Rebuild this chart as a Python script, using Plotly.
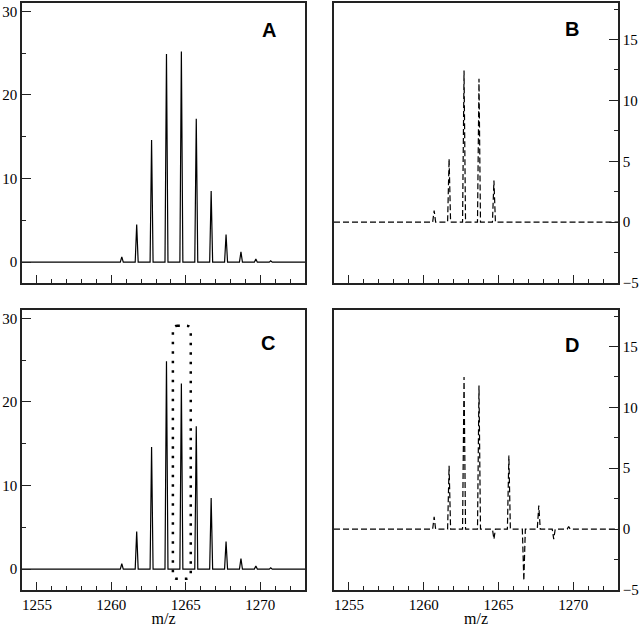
import plotly.graph_objects as go

# ---- data ----
peak_mz = [1260.7, 1261.7, 1262.7, 1263.7, 1264.7, 1265.7, 1266.7, 1267.7, 1268.7, 1269.7, 1270.7]
intensity_A = [0.64, 4.5, 14.6, 24.9, 25.2, 17.15, 8.5, 3.3, 1.23, 0.36, 0.15]
intensity_C = [0.64, 4.5, 14.6, 24.85, 22.2, 17.1, 8.5, 3.3, 1.25, 0.36, 0.15]
difference_B = [0.96, 5.2, 12.45, 11.77, 3.42, 0.0, 0.0, 0.0, 0.0, 0.0, 0.0]
difference_D = [1.0, 5.2, 12.5, 11.8, -0.82, 6.04, -4.23, 1.94, -0.82, 0.22, 0.0]
mz_start, mz_end = 1254, 1273
panel_labels = ["A", "B", "C", "D"]
# highlighted region in C (m/z range, intensity range)
box_mz = [1264.13, 1265.33]
box_int = [-1.16, 29.12]

HALF = 0.1  # half-width of each profile peak (m/z)


def profile(mz, vals):
    xs, ys = [mz_start], [0]
    for c, h in zip(mz, vals):
        xs += [c - HALF, c, c + HALF]
        ys += [0, h, 0]
    xs.append(mz_end)
    ys.append(0)
    return xs, ys


fig = go.Figure()
line_solid = dict(color="black", width=1.2)
line_dash = dict(color="black", width=1.2, dash="6px,3px")

for vals, xa, ya, ln in [
    (intensity_A, "x", "y", line_solid),
    (difference_B, "x2", "y2", line_dash),
    (intensity_C, "x3", "y3", line_solid),
    (difference_D, "x4", "y4", line_dash),
]:
    xs, ys = profile(peak_mz, vals)
    fig.add_trace(go.Scatter(x=xs, y=ys, mode="lines", line=ln, xaxis=xa, yaxis=ya,
                             showlegend=False, hoverinfo="skip"))

W, H = 640, 627
ML, MR, MT, MB = 22, 22, 1, 37
PW, PH = W - ML - MR, H - MT - MB
colA = [0, (305 - ML) / PW]
colB = [(334 - ML) / PW, 1]
rowTop = [(H - MB - 282) / PH, 1]
rowBot = [0, (H - MB - 309) / PH]

SERIF = "Liberation Serif"
axcol = "#222222"


def xaxis(domain, anchor, labels):
    d = dict(domain=domain, anchor=anchor, range=[mz_start, mz_end], tick0=1255, dtick=5,
             ticks="inside", ticklen=8, tickwidth=1.2, tickcolor=axcol,
             minor=dict(dtick=1, ticks="inside", ticklen=4, tickwidth=1.2, tickcolor=axcol, showgrid=False),
             showline=True, linewidth=1.5, linecolor=axcol, mirror=True,
             showgrid=False, zeroline=False, showticklabels=labels,
             tickfont=dict(family=SERIF, size=15, color="black"))
    if labels:
        d["title"] = dict(text="m/z", font=dict(family=SERIF, size=16, color="black"), standoff=1)
    return d


def yaxis(domain, anchor, rng, dt, side):
    return dict(domain=domain, anchor=anchor, range=rng, dtick=dt, tick0=0, side=side,
                ticks="inside", ticklen=9, tickwidth=1.2, tickcolor=axcol,
                minor=dict(dtick=dt / 2, ticks="inside", ticklen=4, tickwidth=1.2, tickcolor=axcol, showgrid=False),
                showline=True, linewidth=1.5, linecolor=axcol, mirror=True,
                showgrid=False, zeroline=False,
                tickfont=dict(family=SERIF, size=15, color="black"))


fig.update_layout(
    width=W, height=H, margin=dict(l=ML, r=MR, t=MT, b=MB),
    font=dict(family=SERIF, size=15, color="black"),
    paper_bgcolor="white", plot_bgcolor="white",
    xaxis=xaxis(colA, "y", False),
    yaxis=yaxis(rowTop, "x", [-2.5, 31], 10, "left"),
    xaxis2=xaxis(colB, "y2", False),
    yaxis2=yaxis(rowTop, "x2", [-5, 18], 5, "right"),
    xaxis3=xaxis(colA, "y3", True),
    yaxis3=yaxis(rowBot, "x3", [-2.5, 31], 10, "left"),
    xaxis4=xaxis(colB, "y4", True),
    yaxis4=yaxis(rowBot, "x4", [-5, 18], 5, "right"),
)

letter_pos = [("x", "y", 0.872, 0.905), ("x2", "y2", 0.839, 0.906),
              ("x3", "y3", 0.869, 0.881), ("x4", "y4", 0.838, 0.876)]
for lab, (xa, ya, fx, fy) in zip(panel_labels, letter_pos):
    fig.add_annotation(text="<b>%s</b>" % lab, xref=xa + " domain", yref=ya + " domain",
                       x=fx, y=fy, showarrow=False, xanchor="center", yanchor="middle",
                       font=dict(family="Liberation Sans", size=20, color="black"))

# dotted rounded box in panel C
x0, x1 = box_mz
y0, y1 = box_int
rx, ry = 0.3, 0.6
path = (f"M {x0+rx},{y1} L {x1-rx},{y1} Q {x1},{y1} {x1},{y1-ry} L {x1},{y0+ry} "
        f"Q {x1},{y0} {x1-rx},{y0} L {x0+rx},{y0} Q {x0},{y0} {x0},{y0+ry} "
        f"L {x0},{y1-ry} Q {x0},{y1} {x0+rx},{y1} Z")
fig.add_shape(type="path", path=path, xref="x3", yref="y3",
              line=dict(color="black", width=2.5, dash="2.5px,7px"))

fig.write_html("out.html", config={"displayModeBar": False},
               post_script="document.body.style.margin='0px';document.body.style.overflow='hidden';")
